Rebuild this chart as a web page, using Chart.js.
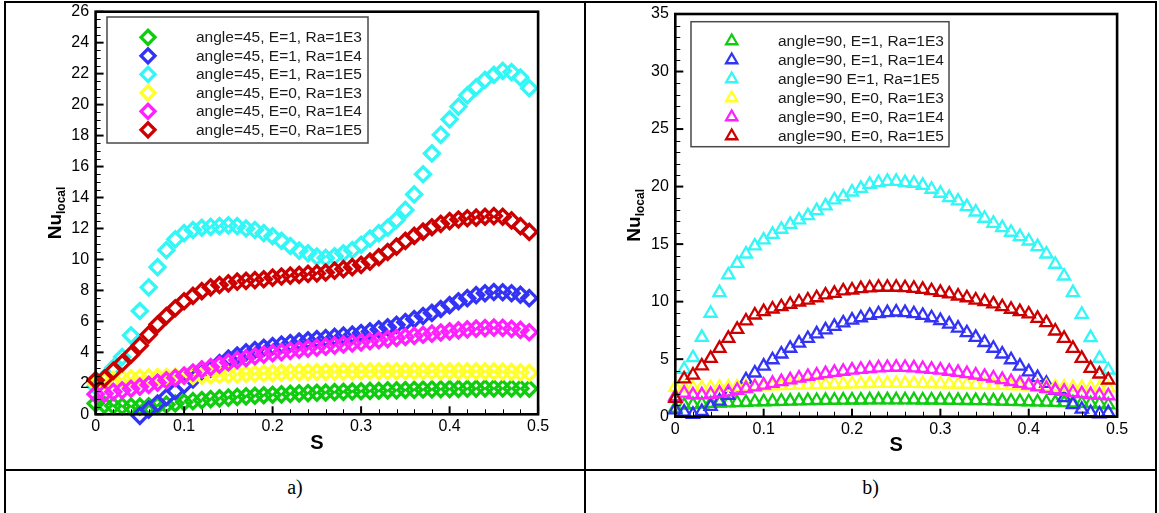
<!DOCTYPE html>
<html>
<head>
<meta charset="utf-8">
<title>Local Nusselt number along S</title>
<script src="https://cdn.jsdelivr.net/npm/chart.js@4/dist/chart.umd.min.js"></script>
<style>
  html, body { margin: 0; padding: 0; background: #fff; }
  body { width: 1159px; height: 513px; position: relative; overflow: hidden; }
  .rule { position: absolute; background: #000; }
  canvas { position: absolute; top: 0; }
  #panelA { left: 0; }
  #panelB { left: 586px; }
  .cap { position: absolute; top: 472px; height: 30px; line-height: 30px; text-align: center;
         font-family: "Liberation Serif", "Times New Roman", serif; font-size: 20px; color: #000; }
</style>
</head>
<body>
<!-- table frame -->
<div class="rule" style="left:4px;top:1px;width:1153px;height:2px"></div>
<div class="rule" style="left:4px;top:1px;width:2px;height:512px"></div>
<div class="rule" style="left:584px;top:1px;width:2px;height:512px"></div>
<div class="rule" style="left:1155px;top:1px;width:2px;height:512px"></div>
<div class="rule" style="left:4px;top:469px;width:1153px;height:2px"></div>

<canvas id="panelA" width="583" height="466"></canvas>
<canvas id="panelB" width="568" height="466"></canvas>

<div class="cap" style="left:6px;width:578px">a)</div>
<div class="cap" style="left:586px;width:569px">b)</div>

<script>
// ---- positions along the wall ----
const sPos = [0, 0.01, 0.02, 0.03, 0.04, 0.05, 0.06, 0.07, 0.08, 0.09,
              0.10, 0.11, 0.12, 0.13, 0.14, 0.15, 0.16, 0.17, 0.18, 0.19,
              0.20, 0.21, 0.22, 0.23, 0.24, 0.25, 0.26, 0.27, 0.28, 0.29,
              0.30, 0.31, 0.32, 0.33, 0.34, 0.35, 0.36, 0.37, 0.38, 0.39,
              0.40, 0.41, 0.42, 0.43, 0.44, 0.45, 0.46, 0.47, 0.48, 0.49];

// ---- tick labels ----
const sTicks = [0, 0.1, 0.2, 0.3, 0.4, 0.5];
const sTickLabels = ['0', '0.1', '0.2', '0.3', '0.4', '0.5'];
const nuTicksA = [0, 2, 4, 6, 8, 10, 12, 14, 16, 18, 20, 22, 24, 26];
const nuTickLabelsA = ['0', '2', '4', '6', '8', '10', '12', '14', '16', '18', '20', '22', '24', '26'];
const nuTicksB = [0, 5, 10, 15, 20, 25, 30, 35];
const nuTickLabelsB = ['0', '5', '10', '15', '20', '25', '30', '35'];

// ---- series names ----
const namesA = ['angle=45, E=1, Ra=1E3', 'angle=45, E=1, Ra=1E4', 'angle=45, E=1, Ra=1E5',
                'angle=45, E=0, Ra=1E3', 'angle=45, E=0, Ra=1E4', 'angle=45, E=0, Ra=1E5'];
const namesB = ['angle=90, E=1, Ra=1E3', 'angle=90, E=1, Ra=1E4', 'angle=90 E=1, Ra=1E5',
                'angle=90, E=0, Ra=1E3', 'angle=90, E=0, Ra=1E4', 'angle=90, E=0, Ra=1E5'];
const seriesColors = ['#0fcc0f', '#3333f6', '#33f6f6', '#ffff2a', '#ff1fff', '#cc0000'];

// ---- angle = 45 ----
const nuA_E1_Ra1E3 = [0.7, 0.6, 0.55, 0.52, 0.5, 0.5, 0.52, 0.56, 0.62, 0.7,
                      0.78, 0.85, 0.92, 0.98, 1.03, 1.08, 1.12, 1.16, 1.2, 1.23,
                      1.26, 1.29, 1.32, 1.35, 1.37, 1.39, 1.41, 1.43, 1.45, 1.47,
                      1.49, 1.51, 1.52, 1.54, 1.55, 1.57, 1.58, 1.6, 1.61, 1.62,
                      1.63, 1.64, 1.65, 1.66, 1.67, 1.67, 1.67, 1.67, 1.66, 1.65];
const nuA_E1_Ra1E4 = [null, null, null, null, null, -0.1, 0.3, 0.7, 1.1, 1.5,
                      1.9, 2.25, 2.6, 2.95, 3.3, 3.6, 3.8, 4.0, 4.15, 4.3,
                      4.4, 4.5, 4.6, 4.7, 4.78, 4.85, 4.92, 5.0, 5.08, 5.15,
                      5.25, 5.35, 5.48, 5.62, 5.78, 5.95, 6.15, 6.35, 6.55, 6.8,
                      7.05, 7.3, 7.5, 7.7, 7.82, 7.9, 7.88, 7.82, 7.72, 7.5];
const nuA_E1_Ra1E5 = [1.8, 2.35, 3.0, 3.7, 5.1, 6.67, 8.2, 9.5, 10.6, 11.3,
                      11.7, 11.9, 12.05, 12.1, 12.15, 12.2, 12.15, 12.0, 11.9, 11.7,
                      11.5, 11.2, 10.87, 10.57, 10.4, 10.18, 10.1, 10.2, 10.4, 10.6,
                      10.95, 11.35, 11.7, 12.05, 12.55, 13.2, 14.2, 15.5, 16.85, 18.05,
                      19.05, 19.87, 20.6, 21.12, 21.6, 21.92, 22.18, 22.1, 21.75, 21.06];
const nuA_E0_Ra1E3 = [2.0, 2.15, 2.25, 2.3, 2.33, 2.36, 2.38, 2.4, 2.42, 2.44,
                      2.46, 2.48, 2.5, 2.52, 2.54, 2.56, 2.58, 2.6, 2.62, 2.64,
                      2.66, 2.68, 2.7, 2.71, 2.72, 2.73, 2.74, 2.75, 2.76, 2.77,
                      2.77, 2.78, 2.78, 2.78, 2.78, 2.78, 2.78, 2.78, 2.78, 2.78,
                      2.78, 2.78, 2.78, 2.78, 2.78, 2.77, 2.76, 2.74, 2.71, 2.67];
const nuA_E0_Ra1E4 = [1.3, 1.35, 1.45, 1.55, 1.65, 1.78, 1.9, 2.05, 2.2, 2.35,
                      2.5, 2.7, 2.9, 3.05, 3.2, 3.35, 3.5, 3.62, 3.75, 3.85,
                      3.95, 4.02, 4.1, 4.17, 4.24, 4.3, 4.37, 4.44, 4.51, 4.58,
                      4.65, 4.72, 4.79, 4.86, 4.93, 5.0, 5.07, 5.14, 5.21, 5.28,
                      5.35, 5.42, 5.48, 5.53, 5.57, 5.6, 5.58, 5.52, 5.45, 5.3];
const nuA_E0_Ra1E5 = [2.2, 2.3, 2.8, 3.3, 3.85, 4.45, 5.15, 5.8, 6.35, 6.85,
                      7.3, 7.65, 7.95, 8.2, 8.35, 8.46, 8.57, 8.62, 8.67, 8.72,
                      8.83, 8.9, 8.96, 9.0, 9.07, 9.1, 9.16, 9.28, 9.38, 9.5,
                      9.65, 9.86, 10.15, 10.48, 10.83, 11.2, 11.52, 11.8, 12.08, 12.3,
                      12.48, 12.58, 12.66, 12.7, 12.76, 12.8, 12.76, 12.52, 12.15, 11.78];

// ---- angle = 90 ----
const nuB_E1_Ra1E3 = [0.75, 1.0, 1.05, 1.1, 1.15, 1.18, 1.2, 1.23, 1.25, 1.28,
                      1.3, 1.32, 1.34, 1.36, 1.38, 1.4, 1.41, 1.42, 1.43, 1.44,
                      1.45, 1.45, 1.46, 1.46, 1.46, 1.46, 1.46, 1.46, 1.45, 1.45,
                      1.44, 1.43, 1.42, 1.41, 1.4, 1.39, 1.38, 1.36, 1.34, 1.32,
                      1.3, 1.28, 1.26, 1.24, 1.22, 1.2, 1.17, 1.14, 1.1, 1.02];
const nuB_E1_Ra1E4 = [0.6, 0.4, 0.2, 0.45, 0.9, 1.35, 1.85, 2.5, 3.2, 3.8,
                      4.4, 4.95, 5.45, 5.95, 6.4, 6.8, 7.2, 7.55, 7.85, 8.15,
                      8.4, 8.6, 8.8, 8.95, 9.05, 9.1, 9.05, 8.95, 8.8, 8.6,
                      8.35, 8.05, 7.7, 7.3, 6.9, 6.45, 5.95, 5.45, 4.95, 4.4,
                      3.9, 3.4, 2.9, 2.3, 1.65, 1.05, 0.65, 0.35, 0.25, 0.35];
const nuB_E1_Ra1E5 = [1.7, 4.12, 5.13, 6.9, 8.99, 10.78, 12.32, 13.33, 14.14, 14.84,
                      15.36, 15.85, 16.29, 16.72, 17.1, 17.47, 17.91, 18.32, 18.84, 19.12,
                      19.53, 19.85, 20.2, 20.34, 20.46, 20.46, 20.34, 20.29, 20.11, 19.77,
                      19.42, 19.04, 18.75, 18.26, 17.79, 17.25, 16.81, 16.43, 16.03, 15.65,
                      15.27, 14.78, 14.14, 13.25, 12.23, 10.78, 8.9, 6.87, 5.08, 4.06];
const nuB_E0_Ra1E3 = [2.55, 2.5, 2.5, 2.52, 2.54, 2.56, 2.58, 2.6, 2.62, 2.64,
                      2.66, 2.68, 2.7, 2.72, 2.74, 2.76, 2.78, 2.8, 2.82, 2.84,
                      2.86, 2.87, 2.88, 2.89, 2.9, 2.9, 2.9, 2.89, 2.88, 2.87,
                      2.86, 2.84, 2.82, 2.8, 2.78, 2.76, 2.74, 2.72, 2.7, 2.68,
                      2.66, 2.64, 2.62, 2.6, 2.58, 2.56, 2.54, 2.52, 2.5, 2.5];
const nuB_E0_Ra1E4 = [1.75, 2.05, 1.9, 1.9, 1.95, 2.05, 2.15, 2.3, 2.45, 2.6,
                      2.75, 2.9, 3.05, 3.2, 3.35, 3.5, 3.62, 3.74, 3.85, 3.95,
                      4.05, 4.12, 4.19, 4.25, 4.28, 4.3, 4.28, 4.25, 4.19, 4.12,
                      4.05, 3.95, 3.85, 3.74, 3.62, 3.5, 3.36, 3.22, 3.06, 2.9,
                      2.75, 2.6, 2.45, 2.32, 2.2, 2.1, 2.0, 1.92, 1.86, 1.82];
const nuB_E0_Ra1E5 = [1.6, 3.28, 3.62, 4.41, 5.07, 5.94, 6.81, 7.59, 8.32, 8.84,
                      9.13, 9.36, 9.56, 9.77, 9.97, 10.14, 10.34, 10.58, 10.72, 10.93,
                      11.01, 11.13, 11.19, 11.25, 11.25, 11.25, 11.21, 11.16, 11.07, 10.95,
                      10.81, 10.67, 10.49, 10.34, 10.14, 10.0, 9.8, 9.56, 9.34, 9.13,
                      8.93, 8.55, 8.17, 7.45, 6.81, 5.94, 5.07, 4.2, 3.71, 3.19];

const seriesA = [nuA_E1_Ra1E3, nuA_E1_Ra1E4, nuA_E1_Ra1E5, nuA_E0_Ra1E3, nuA_E0_Ra1E4, nuA_E0_Ra1E5];
const seriesB = [nuB_E1_Ra1E3, nuB_E1_Ra1E4, nuB_E1_Ra1E5, nuB_E0_Ra1E3, nuB_E0_Ra1E4, nuB_E0_Ra1E5];

const FONT = '"Liberation Sans", Arial, Helvetica, sans-serif';

function buildDatasets(series, names, marker) {
  return series.map((vals, i) => ({
    label: names[i],
    data: sPos.map((s, k) => ({ x: s, y: vals[k] })),
    showLine: false,
    pointStyle: marker.style,
    pointRadius: marker.radius,
    pointBorderWidth: marker.width,
    pointBackgroundColor: 'rgba(0,0,0,0)',
    pointBorderColor: seriesColors[i],
    borderColor: seriesColors[i],
    backgroundColor: 'rgba(0,0,0,0)',
    clip: false,
    order: series.length - 1 - i   // later series are drawn on top
  }));
}

function strokeLine(ctx, x0, y0, x1, y1) {
  ctx.beginPath(); ctx.moveTo(x0, y0); ctx.lineTo(x1, y1); ctx.stroke();
}

// Frame, inward ticks, tick labels and axis titles
const frameTicks = {
  id: 'frameTicks',
  afterDatasetsDraw(chart, args, o) {
    const { ctx, chartArea: a } = chart;
    const xs = chart.scales.x, ys = chart.scales.y;
    ctx.save();
    ctx.strokeStyle = '#000';
    ctx.fillStyle = '#000';

    // x ticks (bottom edge, pointing up)
    for (let i = 0; i < o.xTicks.length; i++) {
      const px = xs.getPixelForValue(o.xTicks[i]);
      ctx.lineWidth = 2;
      strokeLine(ctx, px, a.bottom, px, a.bottom - 8);
      if (i < o.xTicks.length - 1) {
        const step = (o.xTicks[i + 1] - o.xTicks[i]) / o.xMinor;
        ctx.lineWidth = 1;
        for (let k = 1; k < o.xMinor; k++) {
          const mx = Math.round(xs.getPixelForValue(o.xTicks[i] + step * k)) + 0.5;
          strokeLine(ctx, mx, a.bottom, mx, a.bottom - 5);
        }
      }
    }
    // y ticks (left edge, pointing right)
    for (let i = 0; i < o.yTicks.length; i++) {
      const py = ys.getPixelForValue(o.yTicks[i]);
      ctx.lineWidth = 2;
      strokeLine(ctx, a.left, py, a.left + 8, py);
      if (i < o.yTicks.length - 1) {
        const step = (o.yTicks[i + 1] - o.yTicks[i]) / o.yMinor;
        ctx.lineWidth = 1;
        for (let k = 1; k < o.yMinor; k++) {
          const my = Math.round(ys.getPixelForValue(o.yTicks[i] + step * k)) + 0.5;
          strokeLine(ctx, a.left, my, a.left + 5, my);
        }
      }
    }

    // plot frame
    ctx.lineWidth = 2.6;
    ctx.strokeRect(a.left, a.top, a.right - a.left, a.bottom - a.top);

    // tick labels
    ctx.font = '16px ' + FONT;
    ctx.fillStyle = '#000';
    ctx.textAlign = 'center';
    ctx.textBaseline = 'middle';
    o.xTicks.forEach((v, i) => ctx.fillText(o.xLabels[i], xs.getPixelForValue(v), a.bottom + 12.5));
    ctx.textAlign = 'right';
    o.yTicks.forEach((v, i) => ctx.fillText(o.yLabels[i], a.left - 6.5, ys.getPixelForValue(v)));

    // x title
    ctx.font = 'bold 20px ' + FONT;
    ctx.textAlign = 'center';
    ctx.fillText('S', (a.left + a.right) / 2, a.bottom + 29);

    // y title: Nu with subscript "local", rotated
    const cx = a.left - 42, cy = (a.top + a.bottom) / 2;
    ctx.translate(cx, cy);
    ctx.rotate(-Math.PI / 2);
    ctx.textAlign = 'left';
    ctx.textBaseline = 'alphabetic';
    ctx.font = 'bold 19px ' + FONT;
    const w1 = ctx.measureText('Nu').width;
    ctx.font = 'bold 12px ' + FONT;
    const w2 = ctx.measureText('local').width;
    const x0 = -(w1 + w2) / 2;
    ctx.font = 'bold 19px ' + FONT;
    ctx.fillText('Nu', x0, 7);
    ctx.font = 'bold 12px ' + FONT;
    ctx.fillText('local', x0 + w1, 11);
    ctx.restore();
  }
};

// Boxed legend inside the plot
const boxLegend = {
  id: 'boxLegend',
  afterDraw(chart, args, o) {
    const { ctx } = chart;
    ctx.save();
    ctx.fillStyle = '#fff';
    ctx.fillRect(o.box[0], o.box[1], o.box[2], o.box[3]);
    ctx.strokeStyle = '#4a4a4a';
    ctx.lineWidth = 1.5;
    ctx.strokeRect(o.box[0], o.box[1], o.box[2], o.box[3]);
    ctx.font = '15.5px ' + FONT;
    ctx.textAlign = 'left';
    ctx.textBaseline = 'middle';
    chart.data.datasets.forEach((ds, i) => {
      const y = o.firstRow + i * o.rowStep;
      ctx.strokeStyle = ds.pointBorderColor;
      ctx.fillStyle = 'rgba(0,0,0,0)';
      ctx.lineWidth = ds.pointBorderWidth;
      const opts = { pointStyle: ds.pointStyle, rotation: 0, radius: o.markerRadius, borderWidth: ds.pointBorderWidth };
      if (Chart.helpers && Chart.helpers.drawPoint) {
        Chart.helpers.drawPoint(ctx, opts, o.markerX, y);
      }
      ctx.fillStyle = '#1a1a1a';
      ctx.fillText(ds.label, o.textX, y + 0.5);
    });
    ctx.restore();
  }
};

function makeChart(canvasId, datasets, yMax, pad, axisOpts, legendOpts) {
  return new Chart(document.getElementById(canvasId), {
    type: 'scatter',
    data: { datasets },
    options: {
      responsive: false,
      animation: false,
      events: [],
      layout: { padding: pad },
      scales: {
        x: { type: 'linear', min: 0, max: 0.5, display: false },
        y: { type: 'linear', min: 0, max: yMax, display: false }
      },
      plugins: {
        legend: { display: false },
        tooltip: { enabled: false },
        frameTicks: axisOpts,
        boxLegend: legendOpts
      }
    },
    plugins: [frameTicks, boxLegend]
  });
}

makeChart('panelA',
  buildDatasets(seriesA, namesA, { style: 'rectRot', radius: 7.5, width: 3.3 }),
  26,
  { left: 95.6, top: 11.7, right: 44.9, bottom: 51.7 },
  { xTicks: sTicks, xLabels: sTickLabels, xMinor: 5, yTicks: nuTicksA, yLabels: nuTickLabelsA, yMinor: 4 },
  { box: [107, 17, 261, 126], markerX: 148, textX: 196, firstRow: 37.3, rowStep: 18.5, markerRadius: 7 });

makeChart('panelB',
  buildDatasets(seriesB, namesB, { style: 'triangle', radius: 7, width: 2.3 }),
  35,
  { left: 89.3, top: 14, right: 36.9, bottom: 49.3 },
  { xTicks: sTicks, xLabels: sTickLabels, xMinor: 5, yTicks: nuTicksB, yLabels: nuTickLabelsB, yMinor: 5 },
  { box: [105, 21.7, 258, 125], markerX: 145.7, textX: 192, firstRow: 41, rowStep: 19, markerRadius: 6.5 });
</script>
</body>
</html>
